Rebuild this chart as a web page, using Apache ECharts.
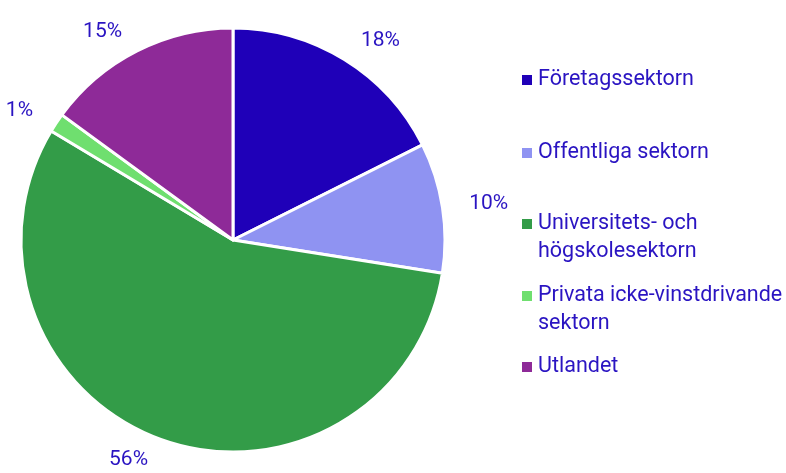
<!DOCTYPE html>
<html>
<head>
<meta charset="utf-8">
<script src="https://cdn.jsdelivr.net/npm/echarts@6/dist/echarts.min.js"></script>
<style>
html, body { margin: 0; padding: 0; background: #fff; }
#main { width: 786px; height: 473px; }
</style>
</head>
<body>
<div id="main"></div>
<script>
// sektorer och andelar (procent)
var sectors = ["Företagssektorn", "Offentliga sektorn", "Universitets- och högskolesektorn",
	"Privata icke-vinstdrivande sektorn", "Utlandet"];
var legendText = ["Företagssektorn", "Offentliga sektorn", "Universitets- och\nhögskolesektorn",
	"Privata icke-vinstdrivande\nsektorn", "Utlandet"];
var shares = [17.6, 9.9, 56.1, 1.45, 14.95];
var colors = ["#1f00b8", "#8f93f2", "#339c48", "#6fdf6f", "#8e2a98"];

var textColor = '#2a14c2';
var iconCenters = [80, 153, 224, 296, 367];

var pieData = [];
for (var i = 0; i < sectors.length; i++) {
	pieData.push({ name: sectors[i], value: shares[i], itemStyle: { color: colors[i] } });
}

var legends = [];
for (var j = 0; j < sectors.length; j++) {
	var twoLines = legendText[j].indexOf('\n') >= 0;
	legends.push({
		data: [sectors[j]],
		left: 520,
		top: twoLines ? iconCenters[j] - 42 : iconCenters[j] - 14,
		orient: 'vertical',
		icon: 'rect',
		itemWidth: 12,
		itemHeight: 12,
		itemGap: 6,
		padding: 0,
		selectedMode: false,
		// tom första rad så att ikonen hamnar vid första textraden
		formatter: (function(k, two) {
			return function() { return two ? '\u00a0\n' + legendText[k] : legendText[k]; };
		})(j, twoLines),
		textStyle: {
			color: textColor,
			fontFamily: 'Roboto',
			fontSize: 21.5,
			lineHeight: 28
		}
	});
}

var option = {
	animation: false,
	legend: legends,
	series: [{
		type: 'pie',
		center: [233, 240],
		radius: 212,
		startAngle: 90,
		clockwise: true,
		avoidLabelOverlap: false,
		data: pieData,
		itemStyle: { borderColor: '#fff', borderWidth: 3 },
		label: {
			show: true,
			position: 'outside',
			color: textColor,
			fontFamily: 'Roboto',
			fontSize: 21,
			formatter: function(p) { return Math.round(p.value) + '%'; }
		},
		labelLine: { show: false, length: 22, length2: 0 },
		emphasis: { disabled: true }
	}]
};

var myChart = echarts.init(document.getElementById('main'));
myChart.setOption(option, true);
window.onresize = function() {
	myChart.resize();
};
</script>
</body>
</html>
